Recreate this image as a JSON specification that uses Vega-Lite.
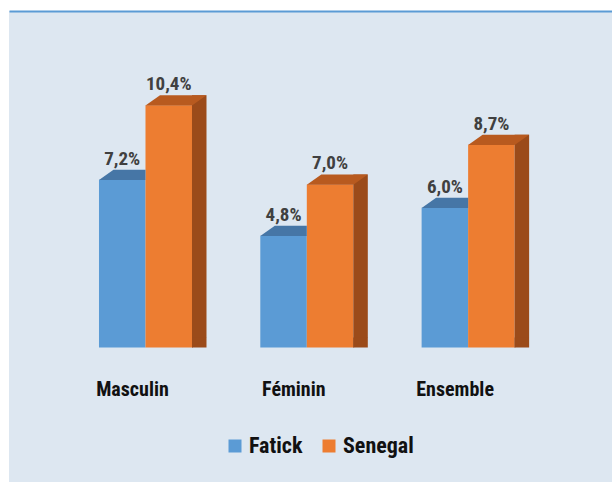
{
  "$schema": "https://vega.github.io/schema/vega-lite/v6.json",
  "width": 603,
  "height": 471,
  "padding": {"left": 9, "top": 11, "right": 0, "bottom": 0},
  "autosize": {"type": "none"},
  "background": "white",
  "config": {
    "view": {"fill": "#dde7f1", "stroke": null},
    "font": "Roboto Condensed, Liberation Sans Narrow, Roboto, sans-serif"
  },
  "data": {
    "values": [
      {"group": "Masculin", "series": "Fatick", "value": 7.2, "label": "7,2%"},
      {"group": "Masculin", "series": "Senegal", "value": 10.4, "label": "10,4%"},
      {"group": "Féminin", "series": "Fatick", "value": 4.8, "label": "4,8%"},
      {"group": "Féminin", "series": "Senegal", "value": 7.0, "label": "7,0%"},
      {"group": "Ensemble", "series": "Fatick", "value": 6.0, "label": "6,0%"},
      {"group": "Ensemble", "series": "Senegal", "value": 8.7, "label": "8,7%"}
    ]
  },
  "layer": [
    {
      "mark": {"type": "bar"},
      "encoding": {
        "x": {
          "field": "group", "type": "nominal", "sort": null,
          "scale": {"domain": ["Masculin", "Féminin", "Ensemble"], "paddingInner": 0.4234, "paddingOuter": 0.5807, "align": 0.4803, "round": false},
          "axis": {"orient": "bottom", "offset": -87, "domain": false, "ticks": false, "tickSize": 0, "labelPadding": 0, "labelBaseline": "alphabetic", "labelAngle": 0, "labelOffset": -13, "labelFont": "Roboto Condensed, Liberation Sans Narrow, Roboto, sans-serif", "labelFontSize": 20, "labelFontWeight": "bold", "labelColor": "#111111", "title": null}
        },
        "xOffset": {"field": "series", "type": "nominal", "scale": {"domain": ["Fatick", "Senegal"], "paddingInner": 0, "paddingOuter": 0}},
        "y": {
          "field": "value", "type": "quantitative", "stack": null,
          "scale": {"domain": [-5.773, 14.442], "nice": false, "zero": false},
          "axis": {"domain": true, "domainColor": "#5b9bd5", "domainWidth": 2, "labels": false, "ticks": false, "grid": false, "title": null}
        },
        "color": {
          "field": "series", "type": "nominal",
          "scale": {"domain": ["Fatick", "Senegal"], "range": ["#5b9bd5", "#ed7d31"]},
          "legend": {"orient": "none", "legendX": 215, "legendY": 424, "direction": "horizontal", "title": null, "symbolType": "square", "symbolSize": 169, "symbolStrokeWidth": 0, "labelFontSize": 22, "labelFontWeight": "bold", "labelColor": "#111111", "labelFont": "Roboto Condensed, Liberation Sans Narrow, Roboto, sans-serif", "columnPadding": 15, "labelOffset": 3, "padding": 0}
        }
      }
    },
    {
      "transform": [{"filter": "datum.series === 'Senegal'"}],
      "mark": {"type": "bar", "width": 14.5, "xOffset": 53.75, "yOffset": -10, "y2Offset": -10, "color": "#9b4b1a"},
      "encoding": {
        "x": {"field": "group", "type": "nominal", "sort": null, "axis": null},
        "y": {"field": "value", "type": "quantitative", "stack": null, "axis": null}
      }
    },
    {
      "transform": [{"filter": "datum.series === 'Senegal'"}],
      "mark": {"type": "point", "shape": "M46.5,-10L46.5,0.3L61,-10Z", "size": 4, "filled": true, "opacity": 1, "strokeWidth": 0, "color": "#9b4b1a"},
      "encoding": {
        "x": {"field": "group", "type": "nominal", "sort": null, "axis": null},
        "y": {"datum": 0, "type": "quantitative", "axis": null}
      }
    },
    {
      "transform": [{"filter": "datum.series === 'Fatick'"}],
      "mark": {"type": "point", "shape": "M-46.5,0.3L0,0.3L0,-10L-32,-10Z", "size": 4, "filled": true, "opacity": 1, "strokeWidth": 0, "color": "#4676a6"},
      "encoding": {
        "x": {"field": "group", "type": "nominal", "sort": null, "axis": null},
        "y": {"field": "value", "type": "quantitative", "axis": null}
      }
    },
    {
      "transform": [{"filter": "datum.series === 'Senegal'"}],
      "mark": {"type": "point", "shape": "M0,0.3L46.5,0.3L61,-10L14.5,-10Z", "size": 4, "filled": true, "opacity": 1, "strokeWidth": 0, "color": "#b85a1f"},
      "encoding": {
        "x": {"field": "group", "type": "nominal", "sort": null, "axis": null},
        "y": {"field": "value", "type": "quantitative", "axis": null}
      }
    },
    {
      "mark": {"type": "text", "dy": -15, "baseline": "alphabetic", "align": "center", "fontSize": 19, "fontWeight": "bold", "color": "#404040", "font": "Roboto Condensed, Liberation Sans Narrow, Roboto, sans-serif"},
      "encoding": {
        "x": {"field": "group", "type": "nominal", "sort": null, "axis": {"orient": "top", "domain": true, "domainColor": "#5b9bd5", "domainWidth": 2, "labels": false, "ticks": false, "grid": false, "title": null}},
        "xOffset": {"field": "series", "type": "nominal"},
        "y": {"field": "value", "type": "quantitative", "axis": null},
        "text": {"field": "label", "type": "nominal"}
      }
    }
  ]
}
